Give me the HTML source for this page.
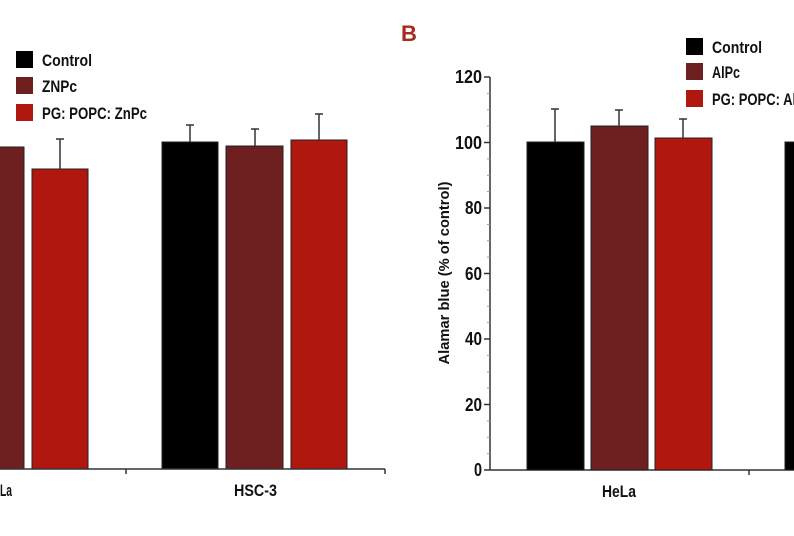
<!DOCTYPE html>
<html><head><meta charset="utf-8"><style>
html,body{margin:0;padding:0;background:#fff;}
svg{display:block;}
text{font-family:"Liberation Sans",sans-serif;font-weight:bold;fill:#111;}
</style></head><body>
<svg width="794" height="536" viewBox="0 0 794 536" xmlns="http://www.w3.org/2000/svg">
<g stroke="#222" stroke-width="1">
<rect x="-2" y="147" width="26" height="322" fill="#6e1f1f"/>
<rect x="32" y="169" width="56" height="300" fill="#b0170f"/>
<rect x="162" y="142" width="56" height="327" fill="#000"/>
<rect x="226" y="146" width="57" height="323" fill="#6e1f1f"/>
<rect x="291" y="140" width="56" height="329" fill="#b0170f"/>
</g>
<g stroke="#333" stroke-width="1.5">
<line x1="60" y1="139" x2="60" y2="169"/><line x1="56" y1="139" x2="64" y2="139"/>
<line x1="190" y1="125" x2="190" y2="142"/><line x1="186" y1="125" x2="194" y2="125"/>
<line x1="255" y1="129" x2="255" y2="146"/><line x1="251" y1="129" x2="259" y2="129"/>
<line x1="319" y1="114" x2="319" y2="140"/><line x1="315" y1="114" x2="323" y2="114"/>
<line x1="0" y1="469" x2="385" y2="469"/>
<line x1="126" y1="469" x2="126" y2="474"/><line x1="385" y1="469" x2="385" y2="474"/>
</g>
<text x="0" y="496" font-size="17" textLength="12" lengthAdjust="spacingAndGlyphs">La</text>
<text x="234" y="496" font-size="17" textLength="43" lengthAdjust="spacingAndGlyphs">HSC-3</text>
<rect x="16" y="51" width="17" height="17" fill="#000"/>
<rect x="16" y="77" width="17" height="17" fill="#6e1f1f"/>
<rect x="16" y="104" width="17" height="17" fill="#b0170f"/>
<text x="42" y="66" font-size="17" textLength="50" lengthAdjust="spacingAndGlyphs">Control</text>
<text x="42" y="92" font-size="17" textLength="35" lengthAdjust="spacingAndGlyphs">ZNPc</text>
<text x="42" y="119" font-size="17" textLength="105" lengthAdjust="spacingAndGlyphs">PG: POPC: ZnPc</text>

<text x="401" y="41" font-size="22" style="fill:#a52a1f">B</text>
<g stroke="#333" stroke-width="1.5">
<line x1="490" y1="77" x2="490" y2="470"/>
<line x1="490" y1="470" x2="794" y2="470"/>
<line x1="749" y1="470" x2="749" y2="475"/>
<line x1="484" y1="470" x2="490" y2="470"/>
<line x1="484" y1="404.5" x2="490" y2="404.5"/>
<line x1="484" y1="339" x2="490" y2="339"/>
<line x1="484" y1="273.5" x2="490" y2="273.5"/>
<line x1="484" y1="208" x2="490" y2="208"/>
<line x1="484" y1="142.5" x2="490" y2="142.5"/>
<line x1="484" y1="77" x2="490" y2="77"/>
</g>
<g stroke="#999" stroke-width="1">
<line x1="487" y1="453.6" x2="490" y2="453.6"/><line x1="487" y1="437.3" x2="490" y2="437.3"/><line x1="487" y1="420.9" x2="490" y2="420.9"/>
<line x1="487" y1="388.1" x2="490" y2="388.1"/><line x1="487" y1="371.8" x2="490" y2="371.8"/><line x1="487" y1="355.4" x2="490" y2="355.4"/>
<line x1="487" y1="322.6" x2="490" y2="322.6"/><line x1="487" y1="306.3" x2="490" y2="306.3"/><line x1="487" y1="289.9" x2="490" y2="289.9"/>
<line x1="487" y1="257.1" x2="490" y2="257.1"/><line x1="487" y1="240.8" x2="490" y2="240.8"/><line x1="487" y1="224.4" x2="490" y2="224.4"/>
<line x1="487" y1="191.6" x2="490" y2="191.6"/><line x1="487" y1="175.3" x2="490" y2="175.3"/><line x1="487" y1="158.9" x2="490" y2="158.9"/>
<line x1="487" y1="126.1" x2="490" y2="126.1"/><line x1="487" y1="109.8" x2="490" y2="109.8"/><line x1="487" y1="93.4" x2="490" y2="93.4"/>
</g>
<g font-size="18">
<text x="474" y="476" textLength="8" lengthAdjust="spacingAndGlyphs">0</text>
<text x="465" y="411" textLength="17" lengthAdjust="spacingAndGlyphs">20</text>
<text x="465" y="345" textLength="17" lengthAdjust="spacingAndGlyphs">40</text>
<text x="465" y="280" textLength="17" lengthAdjust="spacingAndGlyphs">60</text>
<text x="465" y="214" textLength="17" lengthAdjust="spacingAndGlyphs">80</text>
<text x="455" y="149" textLength="27" lengthAdjust="spacingAndGlyphs">100</text>
<text x="455" y="83" textLength="27" lengthAdjust="spacingAndGlyphs">120</text>
</g>
<text transform="translate(449,273) rotate(-90)" font-size="15" text-anchor="middle" textLength="183" lengthAdjust="spacingAndGlyphs">Alamar blue (% of control)</text>
<g stroke="#222" stroke-width="1">
<rect x="527" y="142" width="57" height="328" fill="#000"/>
<rect x="591" y="126" width="57" height="344" fill="#6e1f1f"/>
<rect x="655" y="138" width="57" height="332" fill="#b0170f"/>
<rect x="785" y="142" width="20" height="328" fill="#000"/>
</g>
<g stroke="#333" stroke-width="1.5">
<line x1="555" y1="109" x2="555" y2="142"/><line x1="551" y1="109" x2="559" y2="109"/>
<line x1="619" y1="110" x2="619" y2="126"/><line x1="615" y1="110" x2="623" y2="110"/>
<line x1="683" y1="119" x2="683" y2="138"/><line x1="679" y1="119" x2="687" y2="119"/>
</g>
<text x="602" y="497" font-size="17" textLength="34" lengthAdjust="spacingAndGlyphs">HeLa</text>
<rect x="686" y="38" width="17" height="17" fill="#000"/>
<rect x="686" y="63" width="17" height="17" fill="#6e1f1f"/>
<rect x="686" y="90" width="17" height="17" fill="#b0170f"/>
<text x="712" y="53" font-size="17" textLength="50" lengthAdjust="spacingAndGlyphs">Control</text>
<text x="712" y="78" font-size="17" textLength="28" lengthAdjust="spacingAndGlyphs">AlPc</text>
<text x="712" y="105" font-size="17" textLength="100" lengthAdjust="spacingAndGlyphs">PG: POPC: AlPc</text>
</svg>
</body></html>
